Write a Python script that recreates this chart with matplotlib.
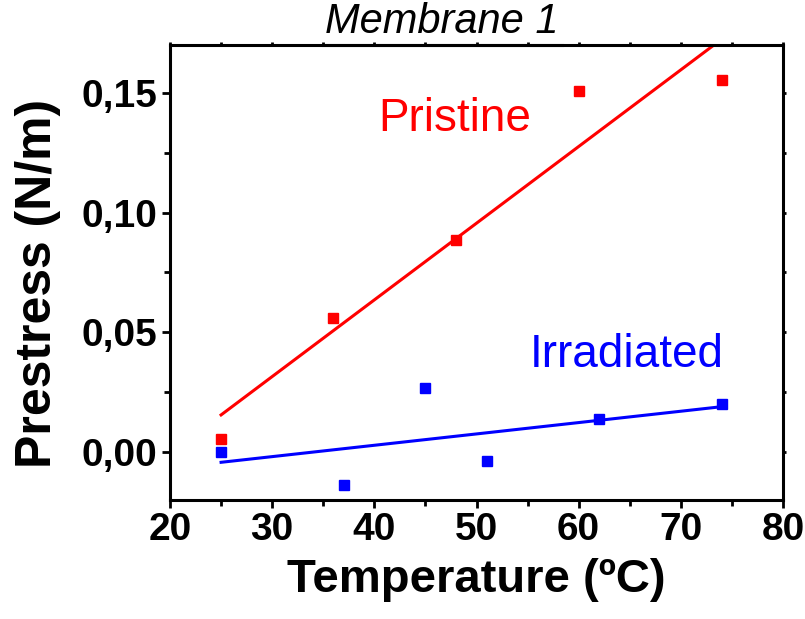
import matplotlib
matplotlib.use("Agg")
import matplotlib.pyplot as plt
from matplotlib.ticker import FuncFormatter, MultipleLocator
from matplotlib.lines import Line2D
import numpy as np

# Measured prestress vs temperature
pristine_temp = [25, 36, 48, 60, 74]
pristine_stress = [0.0053, 0.0560, 0.0884, 0.1506, 0.1552]
irradiated_temp = [25, 37, 45, 51, 62, 74]
irradiated_stress = [0.0000, -0.0139, 0.0269, -0.0039, 0.0137, 0.0199]

x_ticks = [20, 30, 40, 50, 60, 70, 80]
y_ticks = [0.00, 0.05, 0.10, 0.15]

plt.rcParams["font.family"] = ["Liberation Sans", "DejaVu Sans"]

fig = plt.figure(figsize=(8.05, 6.19), dpi=100)
ax = fig.add_axes([170 / 805, 1 - 500 / 619, (783 - 170) / 805, (500 - 45) / 619])

red = "#ff0000"
blue = "#0000ff"

# Linear fits over the measured range
for t, s, c in [(pristine_temp, pristine_stress, red),
                (irradiated_temp, irradiated_stress, blue)]:
    k, b = np.polyfit(t, s, 1)
    xs = np.array([min(t), max(t)])
    ax.plot(xs, k * xs + b, color=c, lw=2.2, zorder=2)
    ax.plot(t, s, ls="none", marker="s", ms=7, color=c, mec=c, zorder=3)

ax.set_xlim(20, 80)
ax.set_ylim(-0.02, 0.17)
ax.set_xticks(x_ticks)
ax.set_yticks(y_ticks)
ax.xaxis.set_minor_locator(MultipleLocator(5))
ax.yaxis.set_minor_locator(MultipleLocator(0.025))
ax.yaxis.set_major_formatter(FuncFormatter(lambda v, p: f"{v:.2f}".replace(".", ",")))

for sp in ax.spines.values():
    sp.set_linewidth(2.2)

ax.tick_params(which="major", direction="out", length=6, width=2, pad=3,
               labelsize=28, top=True, right=True,
               labeltop=False, labelright=False)
ax.tick_params(which="minor", direction="out", length=4, width=2,
               top=True, right=True)
for tk in (ax.xaxis.get_major_ticks() + ax.yaxis.get_major_ticks()
           + ax.xaxis.get_minor_ticks() + ax.yaxis.get_minor_ticks()):
    tk.tick2line.set_markersize(2)

for lab in ax.get_xticklabels() + ax.get_yticklabels():
    lab.set_fontweight("bold")

ax.set_xlabel("Temperature (ºC)", fontweight="bold", fontsize=34, va="center")
ax.xaxis.set_label_coords(0.5, -0.175)
ax.set_ylabel("Prestress (N/m)", fontweight="bold", fontsize=36, va="center")
ax.yaxis.set_label_coords(-0.215, 0.475)

ax.text(0.465, 0.838, "Pristine", color=red, fontsize=33,
        ha="center", va="center", transform=ax.transAxes)
ax.text(0.745, 0.318, "Irradiated", color=blue, fontsize=33,
        ha="center", va="center", transform=ax.transAxes)

fig.text(442 / 805, 1 - 22 / 619, "Membrane 1", fontsize=30, style="italic",
         ha="center", va="center")
fig.add_artist(Line2D([323 / 805, 562 / 805], [1 - 45 / 619, 1 - 45 / 619],
                      color="black", lw=2.2, transform=fig.transFigure))

fig.savefig("out.png", dpi=100)
